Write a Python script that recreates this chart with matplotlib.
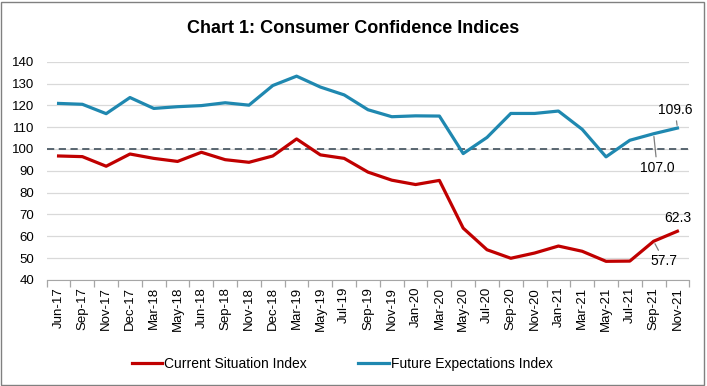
import matplotlib
matplotlib.use('Agg')
import matplotlib.pyplot as plt
from matplotlib.patches import Rectangle

plt.rcParams['font.family'] = ['Liberation Sans', 'DejaVu Sans']

MONTHS = ['Jun-17', 'Sep-17', 'Nov-17', 'Dec-17', 'Mar-18', 'May-18', 'Jun-18',
          'Sep-18', 'Nov-18', 'Dec-18', 'Mar-19', 'May-19', 'Jul-19', 'Sep-19',
          'Nov-19', 'Jan-20', 'Mar-20', 'May-20', 'Jul-20', 'Sep-20', 'Nov-20',
          'Jan-21', 'Mar-21', 'May-21', 'Jul-21', 'Sep-21', 'Nov-21']

CSI = [96.8, 96.5, 92.1, 97.7, 95.7, 94.3, 98.5, 95.1, 93.9, 96.8, 104.6, 97.3,
       95.7, 89.4, 85.7, 83.7, 85.6, 63.7, 53.8, 49.9, 52.3, 55.5, 53.1, 48.5,
       48.6, 57.7, 62.3]
FEI = [120.9, 120.5, 116.2, 123.6, 118.6, 119.4, 119.9, 121.2, 120.1, 129.1,
       133.4, 128.4, 124.8, 118.0, 114.8, 115.2, 115.1, 97.9, 105.3, 116.3,
       116.3, 117.4, 109.0, 96.4, 104.0, 107.0, 109.6]

RED = '#C00000'
BLUE = '#1F88B0'

fig = plt.figure(figsize=(7.07, 3.86), dpi=100)
ax = fig.add_axes([0.066, 0.275, 0.909, 0.565])

x = range(len(MONTHS))
ax.plot(x, CSI, color=RED, linewidth=2.3, label='Current Situation Index', solid_joinstyle='round')
ax.plot(x, FEI, color=BLUE, linewidth=2.3, label='Future Expectations Index', solid_joinstyle='round')
ax.axhline(100, color='#4D5B66', linestyle=(0, (4, 2.5)), linewidth=1.3, zorder=1)

ax.set_xlim(-0.5, len(MONTHS) - 0.5)
ax.set_ylim(40, 140)
ax.set_yticks(range(40, 141, 10))
ax.yaxis.grid(True, color='#D9D9D9', linewidth=0.9)
ax.set_axisbelow(True)
ax.tick_params(axis='y', length=0, labelsize=9.5, pad=9)

ax.set_xticks(list(x))
ax.set_xticklabels(MONTHS, rotation=90, fontsize=9.5)
ax.set_xticks([i + 0.5 for i in range(-1, len(MONTHS))], minor=True)
ax.tick_params(axis='x', which='major', length=0, pad=5)
ax.tick_params(axis='x', which='minor', length=5, color='#A6A6A6', width=0.9)

for s in ['top', 'right', 'left']:
    ax.spines[s].set_visible(False)
ax.spines['bottom'].set_color('#A6A6A6')

# data labels for the last two months
ann = dict(arrowstyle='-', color='#7F7F7F', linewidth=0.9, shrinkA=1, shrinkB=2)
ax.annotate('109.6', xy=(26, FEI[26]), xytext=(25.9, 118.0), ha='center', va='center',
            fontsize=10, arrowprops=ann)
ax.annotate('107.0', xy=(25, FEI[25]), xytext=(25.15, 91.3), ha='center', va='center',
            fontsize=10, arrowprops=ann)
ax.annotate('62.3', xy=(26, CSI[26]), xytext=(26.0, 68.3), ha='center', va='center',
            fontsize=10)
ax.annotate('57.7', xy=(25, CSI[25]), xytext=(25.45, 48.5), ha='center', va='center',
            fontsize=10, arrowprops=ann)

fig.text(0.5, 0.927, 'Chart 1: Consumer Confidence Indices', ha='center', va='center',
         fontsize=13, fontweight='bold')

fig.legend(loc='center', bbox_to_anchor=(0.484, 0.058), ncol=2, frameon=False,
           fontsize=10, handlelength=2.2, handletextpad=0.15, columnspacing=3.7)

fig.patches.append(Rectangle((0.002, 0.003), 0.994, 0.993, transform=fig.transFigure,
                             fill=False, edgecolor='#808080', linewidth=1.0))

fig.savefig('out.png', dpi=100)
